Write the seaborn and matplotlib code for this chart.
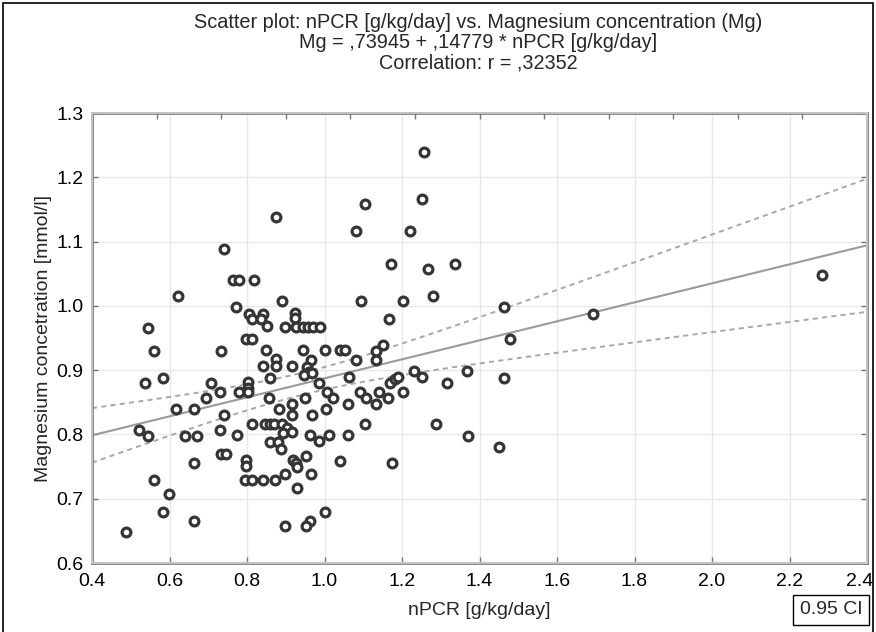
import numpy as np
import pandas as pd
import matplotlib
matplotlib.use("Agg")
import matplotlib.pyplot as plt
import matplotlib.transforms as mtransforms
from matplotlib.patches import Rectangle
import seaborn as sns

# values
NPCR = [
    0.874, 0.741, 0.764, 0.780, 0.817, 0.622, 0.890, 0.772, 0.805, 0.842,
    0.812, 0.835, 0.852, 0.545, 0.897, 0.923, 0.923, 0.927, 0.945, 0.958,
    0.971, 0.988, 0.797, 0.812, 0.560, 0.732, 0.850, 0.945, 1.000, 1.039,
    1.054, 1.134, 1.150, 1.134, 1.080, 0.874, 0.876, 0.842, 0.915, 0.964,
    0.955, 0.960, 0.948, 0.968, 0.859, 0.537, 0.582, 0.708, 0.803, 0.803,
    0.730, 0.779, 0.803, 0.986, 1.062, 0.693, 0.857, 1.006, 1.022, 0.949,
    1.061, 1.092, 1.108, 1.134, 1.141, 1.165, 1.168, 1.181, 1.189, 1.202,
    1.230, 1.252, 1.317, 1.367, 1.464, 0.616, 0.663, 0.882, 0.915, 1.005,
    0.740, 0.915, 0.968, 0.812, 0.846, 0.859, 0.870, 0.891, 0.902, 0.893,
    0.915, 1.104, 1.288, 0.522, 0.730, 0.545, 0.640, 0.670, 0.773, 0.962,
    0.986, 1.012, 1.061, 1.370, 0.859, 0.880, 0.889, 1.450, 0.732, 0.747,
    0.663, 0.797, 0.797, 0.919, 0.926, 0.929, 0.953, 1.041, 1.175, 0.561,
    0.794, 0.812, 0.842, 0.873, 0.897, 0.966, 0.929, 0.599, 0.582, 1.000,
    0.663, 0.962, 0.952, 0.897, 0.488, 1.258, 1.104, 1.251, 1.080, 1.221,
    1.172, 1.267, 1.337, 1.095, 1.202, 1.281, 1.166, 1.464, 1.692, 1.479,
    2.285,
]
MG = [
    1.139, 1.088, 1.040, 1.040, 1.040, 1.016, 1.007, 0.998, 0.988, 0.988,
    0.979, 0.979, 0.968, 0.966, 0.967, 0.989, 0.981, 0.967, 0.967, 0.967,
    0.967, 0.967, 0.948, 0.948, 0.930, 0.930, 0.931, 0.931, 0.931, 0.931,
    0.931, 0.930, 0.939, 0.916, 0.916, 0.917, 0.907, 0.907, 0.907, 0.916,
    0.905, 0.897, 0.893, 0.895, 0.888, 0.880, 0.888, 0.880, 0.881, 0.873,
    0.866, 0.866, 0.866, 0.880, 0.889, 0.856, 0.856, 0.866, 0.856, 0.856,
    0.848, 0.866, 0.856, 0.847, 0.866, 0.856, 0.880, 0.887, 0.890, 0.866,
    0.898, 0.889, 0.880, 0.898, 0.888, 0.839, 0.839, 0.840, 0.848, 0.840,
    0.830, 0.830, 0.830, 0.816, 0.816, 0.816, 0.816, 0.817, 0.810, 0.803,
    0.804, 0.816, 0.816, 0.807, 0.807, 0.798, 0.798, 0.798, 0.799, 0.799,
    0.790, 0.799, 0.799, 0.798, 0.789, 0.789, 0.778, 0.780, 0.769, 0.769,
    0.756, 0.760, 0.751, 0.760, 0.755, 0.749, 0.767, 0.758, 0.756, 0.729,
    0.729, 0.729, 0.729, 0.729, 0.739, 0.739, 0.717, 0.707, 0.679, 0.679,
    0.666, 0.666, 0.658, 0.657, 0.648, 1.239, 1.158, 1.166, 1.116, 1.116,
    1.065, 1.057, 1.065, 1.007, 1.007, 1.016, 0.979, 0.998, 0.988, 0.948,
    1.048,
]

# regression printed in the chart title
INTERCEPT = 0.73945
SLOPE = 0.14779
T_95 = 1.976

X_TICKS = [0.4, 0.6, 0.8, 1.0, 1.2, 1.4, 1.6, 1.8, 2.0, 2.2, 2.4]
Y_TICKS = [0.6, 0.7, 0.8, 0.9, 1.0, 1.1, 1.2, 1.3]

TITLE_LINES = [
    "Scatter plot: nPCR [g/kg/day] vs. Magnesium concentration (Mg)",
    "Mg = ,73945 + ,14779 * nPCR [g/kg/day]",
    "Correlation: r = ,32352",
]

W, H = 876, 632
FS_TITLE = 14.3
FS_TICK = 14
FS_LABEL = 14


def confidence_band(x, y, xs):
    n = len(x)
    xbar = x.mean()
    sxx = ((x - xbar) ** 2).sum()
    resid = y - (INTERCEPT + SLOPE * x)
    s = np.sqrt((resid ** 2).sum() / (n - 2))
    fit = INTERCEPT + SLOPE * xs
    half = T_95 * s * np.sqrt(1.0 / n + (xs - xbar) ** 2 / sxx)
    return fit, fit - half, fit + half


def main():
    sns.set_theme(style="whitegrid")
    plt.rcParams["font.family"] = ["Liberation Sans", "DejaVu Sans"]

    df = pd.DataFrame({"npcr": NPCR, "mg": MG})

    fig = plt.figure(figsize=(W / 100, H / 100), dpi=100)
    ax = fig.add_axes([92 / W, 1 - 563 / H, 775 / W, 450 / H])

    xs = np.linspace(0.4, 2.4, 300)
    fit, lo, hi = confidence_band(df["npcr"].values, df["mg"].values, xs)
    ax.plot(xs, fit, color="#9a9a9a", lw=1.5, zorder=2)
    ax.plot(xs, lo, color="#a8a8a8", lw=1.4, ls=(0, (2.6, 2.2)), zorder=2)
    ax.plot(xs, hi, color="#a8a8a8", lw=1.4, ls=(0, (2.6, 2.2)), zorder=2)

    sns.scatterplot(data=df, x="npcr", y="mg", ax=ax, marker="o", s=40,
                    facecolor="white", edgecolor="#353535", linewidth=2.3,
                    zorder=3)

    ax.set_xlim(0.4, 2.4)
    ax.set_ylim(0.6, 1.3)
    ax.set_xticks(X_TICKS)
    ax.set_yticks(Y_TICKS)
    ax.set_xticklabels([f"{v:.1f}" for v in X_TICKS], fontsize=FS_TICK)
    ax.set_yticklabels([f"{v:.1f}" for v in Y_TICKS], fontsize=FS_TICK)
    ax.grid(True, color="#e8e8e8", lw=1.0)
    ax.tick_params(axis="both", direction="in", length=4, width=1,
                   color="#777777", pad=6, labelcolor="black")
    ax.tick_params(axis="x", pad=7)
    ax.tick_params(axis="y", right=True, left=True)
    ax.tick_params(axis="x", bottom=True)
    for sp in ax.spines.values():
        sp.set_color("#808080")
        sp.set_linewidth(2.0)

    # last x label sits a little to the left so it stays inside the frame
    last = ax.get_xticklabels()[-1]
    last.set_transform(last.get_transform() +
                       mtransforms.ScaledTranslation(-7 / 100, 0,
                                                     fig.dpi_scale_trans))

    # top axis carries its own 12 unlabelled divisions
    top = ax.twiny()
    top.set_xlim(0, 12)
    top.set_xticks(range(1, 12))
    top.tick_params(axis="x", direction="in", length=4, width=1,
                    color="#777777", labeltop=False)
    top.grid(False)

    ax.set_xlabel("nPCR [g/kg/day]", fontsize=FS_LABEL, labelpad=9)
    ax.set_ylabel("Magnesium concetration [mmol/l]", fontsize=FS_LABEL,
                  labelpad=3)

    for i, line in enumerate(TITLE_LINES):
        fig.text(478 / W, 1 - (23 + 20 * i) / H, line, ha="center",
                 va="center", fontsize=FS_TITLE)

    fig.text(831 / W, 1 - 610 / H, "0.95 CI", ha="center", va="center",
             fontsize=FS_LABEL,
             bbox=dict(boxstyle="square,pad=0.35", fc="white", ec="black",
                       lw=1.0))

    fig.patches.append(Rectangle((3 / W, -0.02), 870 / W, 1.02 - 3 / H,
                                 transform=fig.transFigure, fill=False,
                                 ec="black", lw=1.2))

    fig.savefig("out.png", dpi=100)
    plt.close(fig)


if __name__ == "__main__":
    main()
